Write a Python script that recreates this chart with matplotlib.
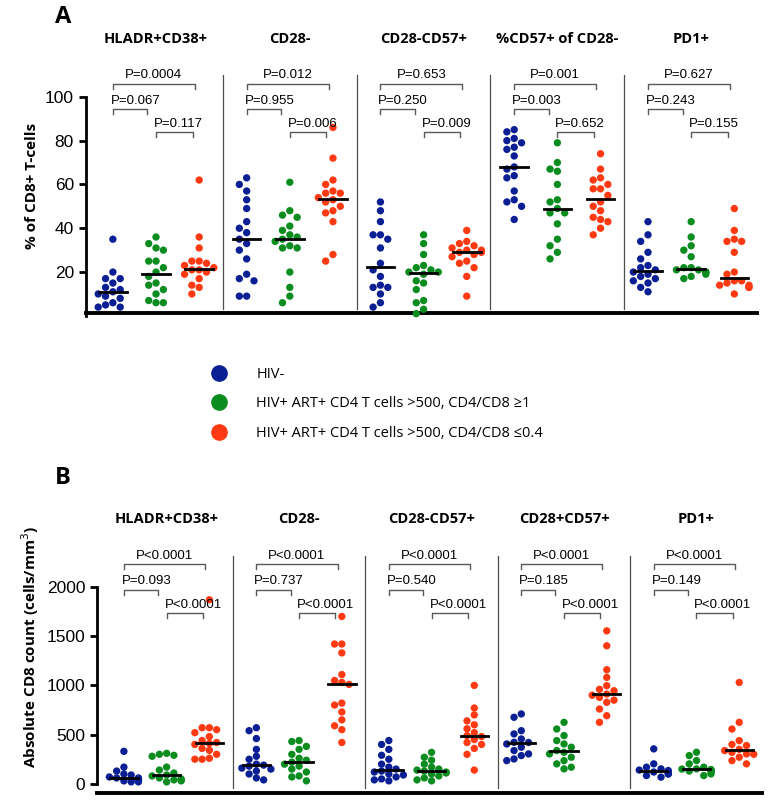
import matplotlib
matplotlib.use("Agg")
import matplotlib.pyplot as plt
from matplotlib.lines import Line2D
import numpy as np

COLORS = ["#0b1f94", "#0b8c1f", "#ff3a12"]
GROUP_LABELS = [
    "HIV-",
    "HIV+ ART+ CD4 T cells >500, CD4/CD8 \u22651",
    "HIV+ ART+ CD4 T cells >500, CD4/CD8 \u22640.4",
]

A_TITLES = ["HLADR+CD38+", "CD28-", "CD28-CD57+", "%CD57+ of CD28-", "PD1+"]
A_VALUES = [
    [[35, 20, 17, 17, 15, 13, 12, 11, 10, 9, 8, 6, 5, 4, 4],
     [36, 33, 30, 31, 25, 25, 22, 20, 18, 15, 14, 12, 10, 7, 6, 6],
     [62, 36, 31, 25, 25, 24, 23, 22, 21, 21, 20, 19, 17, 14, 13, 10]],
    [[63, 60, 57, 53, 49, 43, 40, 38, 35, 33, 30, 26, 19, 17, 16, 9, 9],
     [61, 48, 46, 45, 41, 39, 37, 36, 35, 34, 32, 31, 31, 20, 13, 9, 6],
     [86, 72, 62, 60, 57, 56, 56, 54, 53, 52, 50, 48, 47, 43, 28, 25]],
    [[52, 48, 43, 37, 37, 35, 31, 24, 21, 18, 14, 13, 13, 10, 6, 4],
     [37, 33, 28, 23, 22, 21, 20, 20, 19, 16, 15, 12, 7, 6, 3, 1],
     [39, 34, 33, 32, 31, 30, 30, 29, 29, 28, 27, 25, 24, 22, 18, 9]],
    [[85, 84, 81, 80, 79, 77, 76, 73, 68, 67, 64, 63, 57, 53, 52, 50, 44],
     [79, 70, 67, 66, 60, 53, 52, 49, 47, 47, 42, 35, 32, 29, 26],
     [74, 67, 63, 62, 60, 58, 58, 55, 52, 50, 48, 45, 44, 43, 40, 37]],
    [[43, 37, 34, 29, 26, 23, 22, 21, 20, 19, 18, 17, 16, 15, 13, 11],
     [43, 36, 32, 30, 27, 22, 22, 21, 21, 20, 20, 19, 18, 17],
     [49, 39, 35, 34, 34, 29, 20, 19, 16, 16, 15, 14, 14, 13, 13, 10]],
]
A_PVALS = [
    ("P=0.0004", "P=0.067", "P=0.117"),
    ("P=0.012", "P=0.955", "P=0.006"),
    ("P=0.653", "P=0.250", "P=0.009"),
    ("P=0.001", "P=0.003", "P=0.652"),
    ("P=0.627", "P=0.243", "P=0.155"),
]

B_TITLES = ["HLADR+CD38+", "CD28-", "CD28-CD57+", "CD28+CD57+", "PD1+"]
B_VALUES = [
    [[330, 170, 130, 100, 90, 70, 60, 60, 50, 40, 40, 30, 20, 20],
     [310, 300, 290, 280, 170, 140, 110, 90, 80, 60, 50, 40, 40, 30, 20],
     [1870, 570, 570, 550, 520, 480, 440, 420, 410, 400, 360, 340, 300, 260, 250, 250]],
    [[570, 540, 460, 350, 280, 250, 200, 190, 180, 160, 150, 130, 100, 60, 40],
     [440, 430, 380, 350, 300, 260, 240, 220, 200, 180, 150, 120, 80, 70, 30],
     [1700, 1420, 1420, 1330, 1110, 1050, 1030, 1010, 820, 800, 730, 650, 590, 550, 420]],
    [[440, 400, 350, 290, 250, 200, 170, 150, 130, 120, 100, 90, 70, 50, 40, 30],
     [320, 270, 240, 200, 170, 150, 140, 130, 120, 110, 100, 80, 60, 40, 30],
     [1000, 770, 700, 640, 600, 560, 520, 490, 480, 450, 420, 400, 360, 300, 140]],
    [[710, 676, 540, 507, 456, 422, 420, 405, 372, 338, 304, 287, 253, 236],
     [625, 557, 490, 439, 405, 372, 338, 320, 304, 270, 236, 203, 169, 152],
     [1554, 1402, 1159, 1081, 997, 960, 946, 912, 900, 878, 850, 828, 760, 692, 625]],
    [[355, 203, 169, 152, 140, 135, 120, 118, 101, 100, 84, 68],
     [321, 287, 236, 203, 169, 152, 150, 145, 140, 135, 130, 118, 101, 84],
     [1030, 625, 557, 439, 400, 389, 350, 338, 320, 304, 300, 270, 236, 203]],
]
B_PVALS = [
    ("P<0.0001", "P=0.093", "P<0.0001"),
    ("P<0.0001", "P=0.737", "P<0.0001"),
    ("P<0.0001", "P=0.540", "P<0.0001"),
    ("P<0.0001", "P=0.185", "P<0.0001"),
    ("P<0.0001", "P=0.149", "P<0.0001"),
]

PANEL_W = 3.1
SANS = ["Liberation Sans", "DejaVu Sans"]
TITLE_FONT = ["Open Sans", "DejaVu Sans"]


def swarm_offsets(values, min_dy, dx=0.17):
    """Place points side by side when their values are close."""
    order = np.argsort(values)[::-1]
    placed = []
    offsets = np.zeros(len(values))
    candidates = [0, -1, 1, -2, 2]
    for idx in order:
        v = values[idx]
        for c in candidates:
            if not any(abs(v - pv) < min_dy and abs(pc - c) < 1 for pv, pc in placed):
                break
        placed.append((v, c))
        offsets[idx] = c * dx
    return offsets


def draw_panel(ax, titles, values, pvals, ylim, spine_top, brackets, min_dy, title_y, sep_range):
    ax.set_xlim(-1.63, 4 * PANEL_W + 1.53)
    ax.set_ylim(*ylim)
    for i, groups in enumerate(values):
        center = i * PANEL_W
        xs = [center - 1, center, center + 1]
        for g, vals in enumerate(groups):
            vals = np.array(vals, dtype=float)
            off = swarm_offsets(vals, min_dy)
            ax.scatter(xs[g] + off, vals, s=28, color=COLORS[g], edgecolors="none", zorder=3, clip_on=False)
            med = np.median(vals)
            ax.plot([xs[g] - 0.32, xs[g] + 0.32], [med, med], color="black", lw=2, zorder=4)
        ax.text(center, title_y, titles[i], ha="center", va="center", fontsize=10.5,
                fontweight="bold", family=TITLE_FONT)
        top_y, mid_y, low_y, drop, pad = brackets
        spans = [(xs[0], xs[2] - 0.1, top_y), (xs[0], xs[1] - 0.2, mid_y), (xs[1], xs[2] - 0.15, low_y)]
        for k, (x0, x1, y) in enumerate(spans):
            ax.plot([x0, x0, x1, x1], [y - drop, y, y, y - drop], color="0.35", lw=1, clip_on=False)
            if k == 0:
                ax.text((x0 + x1) / 2, y + pad, pvals[i][k], ha="center", va="bottom", fontsize=9.5, family=SANS)
            else:
                ax.text(x0 - 0.05, y + pad, pvals[i][k], ha="left", va="bottom", fontsize=9.5, family=SANS)
        if i < 4:
            ax.plot([center + PANEL_W / 2] * 2, sep_range, color="0.3", lw=0.9, clip_on=False)
    for side in ("top", "right"):
        ax.spines[side].set_visible(False)
    ax.spines["left"].set_bounds(0, spine_top)
    ax.spines["left"].set_linewidth(2)
    ax.spines["bottom"].set_linewidth(2.8)
    ax.set_xticks([])
    ax.tick_params(axis="y", width=2, length=5, labelsize=12.5)


fig = plt.figure(figsize=(7.79, 8.0), dpi=100)

ax_a = fig.add_axes([0.110, 0.609, 0.862, 0.316])
draw_panel(ax_a, A_TITLES, A_VALUES, A_PVALS, (1.4, 116.8), 100,
           (106, 94.5, 84, 2.3, 1.0), 4.0, 126.5, (110, 3))
ax_a.set_yticks([20, 40, 60, 80, 100])
ax_a.set_ylabel("% of CD8+ T-cells", fontsize=11, fontweight="bold", family=TITLE_FONT)
for lab in ax_a.get_yticklabels():
    lab.set_family(SANS)

ax_b = fig.add_axes([0.1245, 0.009, 0.8535, 0.366])
draw_panel(ax_b, B_TITLES, B_VALUES, B_PVALS, (-91, 2883), 2000,
           (2230, 1970, 1735, 50, 25), 70, 2690, (2315, -40))
ax_b.set_yticks([0, 500, 1000, 1500, 2000])
ax_b.set_ylabel("Absolute CD8 count (cells/mm$^3$)", fontsize=11, fontweight="bold", family=TITLE_FONT)
for lab in ax_b.get_yticklabels():
    lab.set_family(SANS)

fig.text(55 / 779, 1 - 17 / 800, "A", fontsize=17, fontweight="bold", family=TITLE_FONT, va="center")
fig.text(55 / 779, 1 - 478 / 800, "B", fontsize=17, fontweight="bold", family=TITLE_FONT, va="center")

handles = [Line2D([], [], marker="o", ls="none", color=c, markersize=11) for c in COLORS]
fig.legend(handles, GROUP_LABELS, loc="upper left", bbox_to_anchor=(0.245, 0.558), frameon=False,
           handletextpad=1.6, labelspacing=1.0, prop={"family": TITLE_FONT, "size": 10.5})

fig.savefig("out.png", dpi=100)
